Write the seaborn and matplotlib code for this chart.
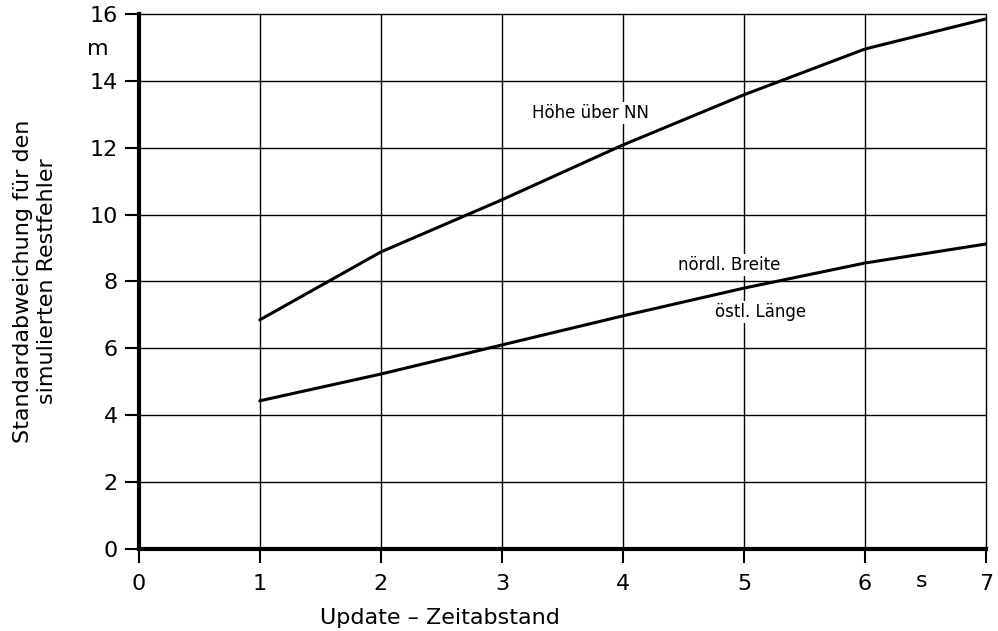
import numpy as np
import pandas as pd
import matplotlib
matplotlib.use('Agg')
import matplotlib.pyplot as plt
import seaborn as sb

#values
zeit = [1, 2, 3, 4, 5, 6, 7]
hoehe = [6.85, 8.88, 10.44, 12.08, 13.58, 14.95, 15.85]
breite_laenge = [4.43, 5.23, 6.1, 6.97, 7.8, 8.55, 9.12]

x_ticks = [0, 1, 2, 3, 4, 5, 6, 7]
y_ticks = [0, 2, 4, 6, 8, 10, 12, 14, 16]

df = pd.DataFrame({'zeit': zeit * 2,
                   'wert': hoehe + breite_laenge,
                   'kurve': ['hoehe'] * 7 + ['lage'] * 7})

sb.set_style('white')
plt.rcParams['font.family'] = ['DejaVu Sans']
plt.rcParams['text.color'] = 'black'
plt.rcParams['axes.labelcolor'] = 'black'
plt.rcParams['xtick.color'] = 'black'
plt.rcParams['ytick.color'] = 'black'

fig = plt.figure(figsize=(9.98, 6.31), dpi=100)
ax = fig.add_axes([0.139, 0.130, 0.849, 0.848])

sb.lineplot(data=df, x='zeit', y='wert', units='kurve', estimator=None,
            color='black', linewidth=2.2, ax=ax, zorder=4)

ax.set_xlim(0, 7)
ax.set_ylim(0, 16)
ax.set_xticks(x_ticks)
ax.set_yticks(y_ticks)
ax.tick_params(bottom=True, left=True, labelsize=16, length=10, width=1.5,
               color='black', labelcolor='black', direction='out', pad=5)
ax.tick_params(axis='x', pad=8)
ax.grid(True, color='black', linewidth=1.0)
for gl in ax.get_xgridlines() + ax.get_ygridlines():
    gl.set_clip_on(False)
ax.set_axisbelow(True)

for side in ['top', 'right']:
    ax.spines[side].set_visible(False)
for side in ['left', 'bottom']:
    ax.spines[side].set_linewidth(3)
    ax.spines[side].set_color('black')

ax.set_xlabel('Update \u2013 Zeitabstand', fontsize=16)
ax.xaxis.set_label_coords(0.355, -0.11)
ax.set_ylabel('Standardabweichung für den\nsimulierten Restfehler', fontsize=16,
              linespacing=1.25)
ax.yaxis.set_label_coords(-0.096, 0.5)

#unit labels
ax.text(-0.34, 14.95, 'm', fontsize=16, ha='center', va='center', clip_on=False)
ax.text(6.47, -0.95, 's', fontsize=16, ha='center', va='center', clip_on=False)

#curve labels, white box cuts the grid like in the original
box = dict(facecolor='white', edgecolor='none', pad=1.5)
ax.text(3.73, 13.05, 'Höhe über NN', fontsize=12, ha='center', va='center', bbox=box, zorder=3)
ax.text(4.88, 8.5, 'nördl. Breite', fontsize=12, ha='center', va='center', bbox=box, zorder=3)
ax.text(5.14, 7.1, 'östl. Länge', fontsize=12, ha='center', va='center', bbox=box, zorder=3)

plt.savefig('out.png', dpi=100)
